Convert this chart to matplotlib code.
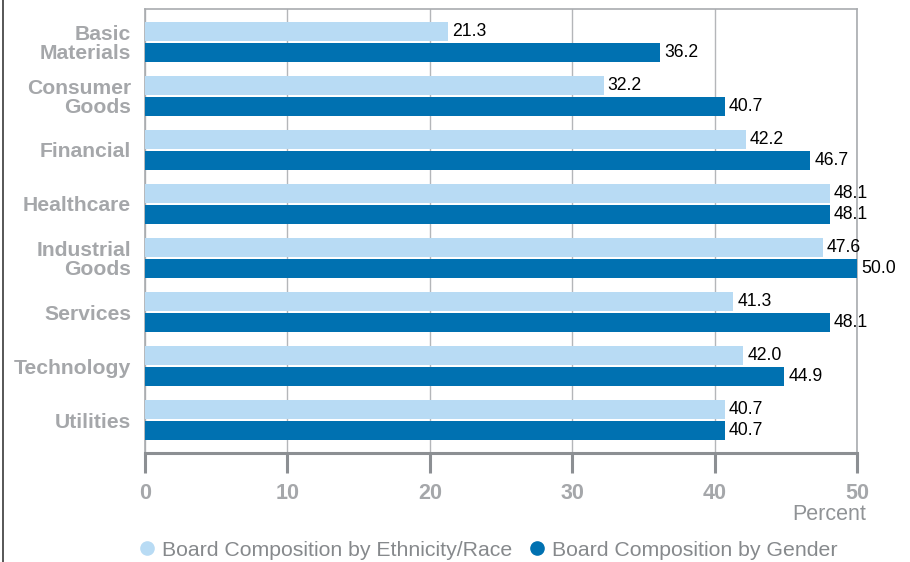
import matplotlib.pyplot as plt
import numpy as np
from matplotlib.lines import Line2D

plt.rcParams['font.family'] = ['Liberation Sans', 'DejaVu Sans']

# Sectors, top to bottom
sectors = ['Basic\nMaterials', 'Consumer\nGoods', 'Financial', 'Healthcare',
           'Industrial\nGoods', 'Services', 'Technology', 'Utilities']
ethnicity = [21.3, 32.2, 42.2, 48.1, 47.6, 41.3, 42.0, 40.7]
gender = [36.2, 40.7, 46.7, 48.1, 50.0, 48.1, 44.9, 40.7]
series_names = ['Board Composition by Ethnicity/Race', 'Board Composition by Gender']
x_ticks = [0, 10, 20, 30, 40, 50]

light = '#b8dbf4'
dark = '#0071b1'
gray_text = '#a5a7aa'
axis_gray = '#8c8f93'

fig = plt.figure(figsize=(9.1, 5.62), dpi=100)
ax = fig.add_axes([145 / 910, 1 - 453 / 562, 712 / 910, 444 / 562])

y = np.arange(len(sectors))
h = 0.355
off = 0.19
b1 = ax.barh(y - off, ethnicity, height=h, color=light, zorder=3)
b2 = ax.barh(y + off, gender, height=h, color=dark, zorder=3)

# value labels just past the end of each bar
for bars, vals in ((b1, ethnicity), (b2, gender)):
    for bar, v in zip(bars, vals):
        ax.annotate(f'{v:.1f}', (v, bar.get_y() + bar.get_height() / 2),
                    xytext=(3, 0), textcoords='offset points',
                    ha='left', va='center', fontsize=12.7, color='black',
                    zorder=5)

ax.set_xlim(0, 50)
ax.set_ylim(len(sectors) - 1 + 0.61, -0.61)
ax.set_yticks(y)
ax.set_yticklabels(sectors, fontsize=15.2, fontweight='bold', color=gray_text,
                   linespacing=1.02)
ax.tick_params(axis='y', length=0, pad=10)

ax.set_xticks(x_ticks)
ax.set_xticklabels([str(t) for t in x_ticks], fontsize=15.5, fontweight='bold',
                   color=gray_text)
ax.tick_params(axis='x', length=14.5, width=2.2, color=axis_gray, pad=7)

ax.grid(axis='x', color='#b4b6b9', linewidth=1, zorder=0)
ax.grid(axis='y', visible=False)

for side in ('top', 'right', 'left'):
    ax.spines[side].set_color('#a9acaf')
    ax.spines[side].set_linewidth(1.2)
ax.spines['bottom'].set_color(axis_gray)
ax.spines['bottom'].set_linewidth(2.2)

fig.text(866 / 910, 1 - 515 / 562, 'Percent', ha='right', va='center',
         fontsize=15.5, color='#909396')

handles = [Line2D([], [], marker='o', linestyle='none', markersize=9.5,
                  markerfacecolor=c, markeredgecolor=c) for c in (light, dark)]
fig.legend(handles, series_names, loc='center', ncol=2, frameon=False,
           bbox_to_anchor=(487 / 910, 1 - 550 / 562), fontsize=15.3,
           labelcolor='#86898c', handletextpad=0.2, columnspacing=0.7,
           handlelength=1.0)

# thin frame line down the left edge
fig.add_artist(Line2D([2.5 / 910, 2.5 / 910], [0, 1], color='#3a3a3a',
                      linewidth=1.2, transform=fig.transFigure))

fig.savefig('out.png', dpi=100)
